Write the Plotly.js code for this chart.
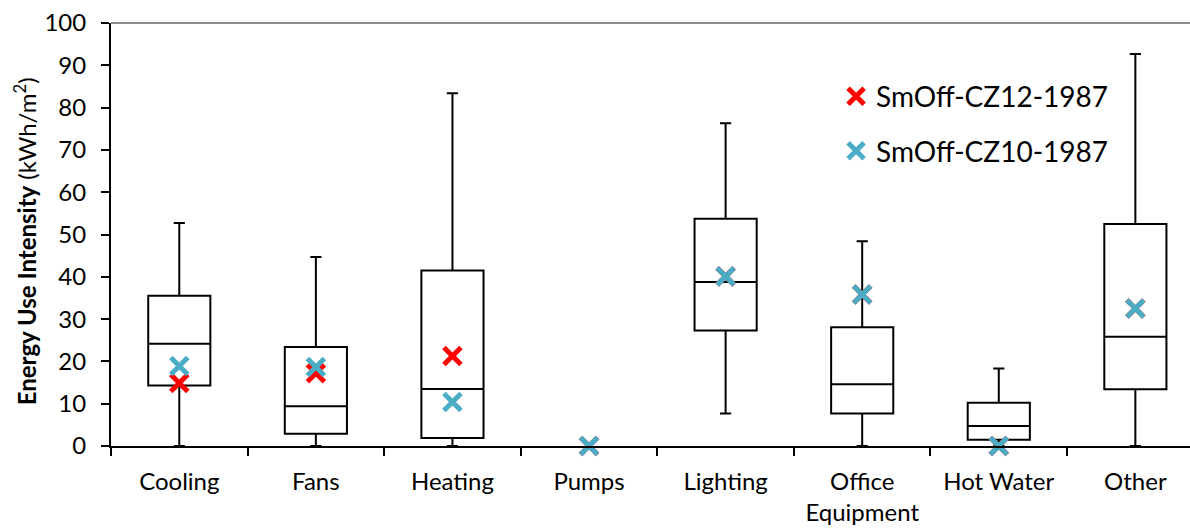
<!DOCTYPE html>
<html>
<head>
<meta charset="utf-8">
<script src="https://cdn.plot.ly/plotly-3.0.1.min.js"></script>
<style>html,body{margin:0;padding:0;background:#fff;}#chart{width:1190px;height:529px;}</style>
</head>
<body>
<div id="chart"></div>
<script>
// Category labels
var categories = ["Cooling", "Fans", "Heating", "Pumps", "Lighting", "Office<br>Equipment", "Hot Water", "Other"];

// Box statistics (Pumps has no box)
var boxCategories = ["Cooling", "Fans", "Heating", "Lighting", "Office<br>Equipment", "Hot Water", "Other"];
var boxLower  = [0,    0,    0,    7.7,  0,    0,    0];
var boxQ1     = [14.3, 2.9,  1.9,  27.3, 7.7,  1.5,  13.4];
var boxMedian = [24.2, 9.4,  13.5, 38.8, 14.6, 4.7,  25.8];
var boxQ3     = [35.5, 23.4, 41.5, 53.7, 28.1, 10.2, 52.5];
var boxUpper  = [52.7, 44.7, 83.4, 76.3, 48.4, 18.3, 92.7];

// Individual building models
var cz12Name = "SmOff-CZ12-1987";
var cz12Values = [14.9, 17.2, 21.3, 0, 40.1, 35.8, 0, 32.5];
var cz10Name = "SmOff-CZ10-1987";
var cz10Values = [18.9, 18.7, 10.4, 0, 40.1, 35.8, 0, 32.5];

var yTitle = "<b>Energy Use Intensity</b> (kWh/m<sup>2</sup>)";

var FONT = "Lato, 'Open Sans', sans-serif";

var traces = [
  {
    type: "box",
    x: boxCategories,
    lowerfence: boxLower,
    q1: boxQ1,
    median: boxMedian,
    q3: boxQ3,
    upperfence: boxUpper,
    boxpoints: false,
    width: 0.455,
    whiskerwidth: 0.18,
    line: {color: "#000000", width: 2},
    fillcolor: "rgba(255,255,255,0)",
    showlegend: false,
    hoverinfo: "skip"
  },
  {
    type: "scatter",
    mode: "markers",
    name: cz12Name,
    x: categories,
    y: cz12Values,
    legendgroup: "a",
    marker: {symbol: "x-thin", size: 17, color: "#FF0000", line: {width: 5, color: "#FF0000"}},
    cliponaxis: false
  },
  {
    type: "scatter",
    mode: "markers",
    name: cz10Name,
    x: categories,
    y: cz10Values,
    legendgroup: "b",
    marker: {symbol: "x-thin", size: 17, color: "#4BACC6", line: {width: 5, color: "#4BACC6"}},
    cliponaxis: false
  }
];

var layout = {
  width: 1190,
  height: 529,
  margin: {l: 111, r: 0, t: 22.5, b: 83.3},
  paper_bgcolor: "#ffffff",
  plot_bgcolor: "#ffffff",
  font: {family: FONT, color: "#000000", size: 24},
  showlegend: true,
  legend: {
    x: 0.672, xanchor: "left",
    y: 0.885, yanchor: "top",
    font: {family: FONT, size: 28, color: "#000000"},
    traceorder: "grouped",
    tracegroupgap: 15,
    bgcolor: "rgba(0,0,0,0)"
  },
  xaxis: {
    type: "category",
    categoryorder: "array",
    categoryarray: categories,
    range: [-0.5, 7.4],
    showline: true,
    linecolor: "#000000",
    linewidth: 2,
    ticks: "outside",
    tickson: "boundaries",
    ticklen: 8,
    tickwidth: 2,
    tickcolor: "#000000",
    showgrid: false,
    zeroline: false,
    tickfont: {family: FONT, size: 24, color: "#000000"},
    ticklabelstandoff: 13
  },
  yaxis: {
    range: [0, 100],
    dtick: 10,
    tick0: 0,
    showline: true,
    linecolor: "#000000",
    linewidth: 2,
    ticks: "outside",
    ticklen: 8,
    tickwidth: 2,
    tickcolor: "#000000",
    showgrid: false,
    zeroline: false,
    tickfont: {family: FONT, size: 24, color: "#000000"},
    ticklabelstandoff: 10
  },
  annotations: [
    {
      text: yTitle,
      xref: "paper", yref: "paper",
      x: -0.0797, y: 0.484,
      xanchor: "center", yanchor: "middle",
      textangle: -90,
      showarrow: false,
      font: {family: FONT, size: 24, color: "#000000"}
    }
  ],
  shapes: [
    {type: "line", xref: "paper", yref: "paper", x0: 0, x1: 1, y0: 1, y1: 1,
     line: {color: "#8c8c8c", width: 2}}
  ]
};

Plotly.newPlot("chart", traces, layout, {displayModeBar: false, staticPlot: true});
</script>
</body>
</html>
